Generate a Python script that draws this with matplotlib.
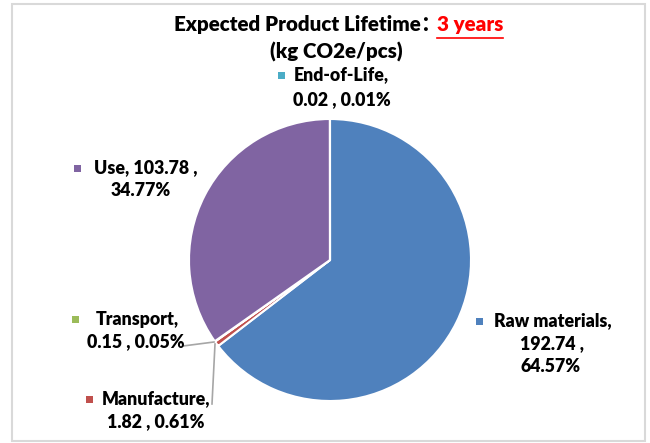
import matplotlib
matplotlib.use("Agg")
import matplotlib.pyplot as plt
from matplotlib.patches import Rectangle
from matplotlib.lines import Line2D

categories = ["Raw materials", "Manufacture", "Transport", "Use", "End-of-Life"]
values = [192.74, 1.82, 0.15, 103.78, 0.02]
percents = ["64.57%", "0.61%", "0.05%", "34.77%", "0.01%"]
colors = ["#4F81BD", "#C0504D", "#9BBB59", "#8064A2", "#4BACC6"]
title_main = "Expected Product Lifetime\uff1a"
title_red = "3 years"
title_unit = "(kg CO2e/pcs)"

W, H = 650, 443
fig = plt.figure(figsize=(W / 100, H / 100), dpi=100)
FAM = ["Lato", "Noto Sans CJK SC", "DejaVu Sans"]


def fx(x):
    return x / W


def fy(y):
    return 1 - y / H


# outer frame
fig.add_artist(Rectangle((fx(12), fy(441)), fx(645) - fx(12), fy(4) - fy(441),
                         fill=False, edgecolor="#D9D9D9", lw=1.5, transform=fig.transFigure))

# pie
cx, cy, r = 330, 260, 141
ax = fig.add_axes([fx(cx - r), fy(cy + r), 2 * r / W, 2 * r / H])
ax.pie(values, colors=colors, startangle=90, counterclock=False, radius=1,
       wedgeprops=dict(edgecolor="white", linewidth=1.5))
ax.set_xlim(-1, 1)
ax.set_ylim(-1, 1)
ax.set_aspect("equal")
ax.axis("off")

# title
fs_t = 14.8
t1 = fig.text(fx(441), fy(25), title_main, ha="right", va="center", fontsize=fs_t,
              fontweight="heavy", family=FAM, color="black")
t2 = fig.text(fx(437), fy(25), title_red, ha="left", va="center", fontsize=fs_t,
              fontweight="heavy", family=FAM, color="#FF0000")
fig.text(fx(336), fy(52), title_unit, ha="center", va="center", fontsize=fs_t,
         fontweight="heavy", family=FAM, color="black")
fig.canvas.draw()
bb = t2.get_window_extent()
fig.add_artist(Line2D([bb.x0 / W, bb.x1 / W], [fy(38), fy(38)], color="#FF0000", lw=1.2,
                      transform=fig.transFigure))

fs = 12.8
colors_map = dict(zip(categories, colors))


def put(cat, marker, rows):
    mx, my = marker
    fig.add_artist(Rectangle((fx(mx - 3.5), fy(my + 3.5)), 7 / W, 7 / H,
                             facecolor=colors_map[cat], edgecolor="none",
                             transform=fig.transFigure))
    for (txt, x, y) in rows:
        fig.text(fx(x), fy(y), txt, ha="center", va="center", fontsize=fs,
                 fontweight="heavy", family=FAM, color="black")


v = dict(zip(categories, values))
p = dict(zip(categories, percents))

put("End-of-Life", (281, 75), [("End-of-Life,", 341, 75),
                               (f"{v['End-of-Life']:.2f} , {p['End-of-Life']}", 342, 100)])
put("Use", (77, 168), [(f"Use, {v['Use']:.2f} ,", 146, 168), (p['Use'], 141, 190)])
put("Transport", (75, 319), [("Transport,", 137, 319),
                             (f"{v['Transport']:.2f} , {p['Transport']}", 136, 342)])
put("Manufacture", (89, 399), [("Manufacture,", 156, 399),
                               (f"{v['Manufacture']:.2f} , {p['Manufacture']}", 156, 422)])
put("Raw materials", (479, 321), [("Raw materials,", 553, 321),
                                  (f"{v['Raw materials']:.2f} ,", 552, 344),
                                  (p['Raw materials'], 551, 367)])

# leader lines
fig.add_artist(Line2D([fx(183), fx(214)], [fy(346), fy(342)], color="#A6A6A6", lw=1.2,
                      transform=fig.transFigure))
fig.add_artist(Line2D([fx(212), fx(215)], [fy(404), fy(344)], color="#A6A6A6", lw=1.2,
                      transform=fig.transFigure))

fig.savefig("out.png", dpi=100)
